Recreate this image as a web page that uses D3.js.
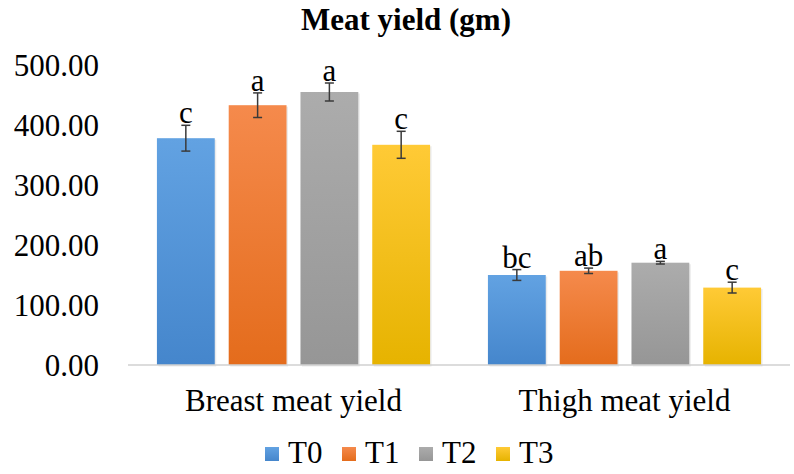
<!DOCTYPE html>
<html>
<head>
<meta charset="utf-8">
<script src="https://cdn.jsdelivr.net/npm/d3@7"></script>
<style>
  html, body { margin: 0; padding: 0; background: #fff; }
  svg { display: block; }
</style>
</head>
<body>
<svg id="chart" width="794" height="474"></svg>
<script>
const categories = ["Breast meat yield", "Thigh meat yield"];
const series = ["T0", "T1", "T2", "T3"];
const values = {
  T0: [378, 150],
  T1: [433, 157],
  T2: [455, 170.5],
  T3: [367, 129]
};
const errors = {
  T0: [21.5, 9],
  T1: [20.5, 4.5],
  T2: [15, 2.2],
  T3: [22.5, 9]
};
const letters = {
  T0: ["c", "bc"],
  T1: ["a", "ab"],
  T2: ["a", "a"],
  T3: ["c", "c"]
};
const yTicks = [0, 100, 200, 300, 400, 500];
const colorsTop = { T0: "#62a2e2", T1: "#f58a4c", T2: "#acacac", T3: "#ffca36" };
const colorsBot = { T0: "#4586cc", T1: "#e46c1c", T2: "#969696", T3: "#e6b300" };

const FONT = "'Liberation Serif'";
const svg = d3.select("#chart").attr("font-family", FONT);
const pLeft = 128, pRight = 790, pTop = 65, pBottom = 365;

const x0 = d3.scaleBand().domain(categories).range([pLeft, pRight]).paddingInner(0).paddingOuter(0);
const x1 = d3.scaleBand().domain(series).range([0, x0.bandwidth()]).paddingInner(14/72).paddingOuter(0.403);
const y = d3.scaleLinear().domain([0, 500]).range([pBottom, pTop]);

const defs = svg.append("defs");
series.forEach(s => {
  const g = defs.append("linearGradient").attr("id", "grad-" + s)
    .attr("x1", 0).attr("y1", 0).attr("x2", 0).attr("y2", 1);
  g.append("stop").attr("offset", "0%").attr("stop-color", colorsTop[s]);
  g.append("stop").attr("offset", "100%").attr("stop-color", colorsBot[s]);
});

// title
svg.append("text").attr("x", 406).attr("y", 30).attr("text-anchor", "middle")
  .attr("font-family", FONT).attr("font-size", 31).attr("font-weight", "bold").attr("fill", "#000")
  .text("Meat yield (gm)");

// y tick labels
const yAxis = d3.axisLeft(y).tickValues(yTicks).tickFormat(d3.format(".2f")).tickSize(0).tickPadding(0);
const ya = svg.append("g").attr("transform", `translate(99,0)`).call(yAxis)
  .attr("font-family", FONT).attr("font-size", 31);
ya.select(".domain").remove();
ya.selectAll("text").attr("fill", "#000").attr("dy", "0.34em");

// bars
const groups = svg.append("g").selectAll("g").data(categories).join("g")
  .attr("transform", d => `translate(${x0(d)},0)`);

groups.each(function(cat, ci) {
  const g = d3.select(this);
  series.forEach(s => {
    const v = values[s][ci], e = errors[s][ci];
    const bx = x1(s), bw = x1.bandwidth();
    g.append("rect").attr("x", bx + 1.5).attr("y", y(v) + 1.5).attr("width", bw).attr("height", pBottom - y(v))
      .attr("fill", "#000").attr("opacity", 0.08);
    g.append("rect").attr("x", bx).attr("y", y(v)).attr("width", bw).attr("height", pBottom - y(v))
      .attr("fill", `url(#grad-${s})`);
    const cx = bx + bw / 2;
    const col = "#3a3a3a";
    g.append("line").attr("x1", cx).attr("x2", cx).attr("y1", y(v + e)).attr("y2", y(v - e))
      .attr("stroke", col).attr("stroke-width", 1.5);
    [v + e, v - e].forEach(t => {
      g.append("line").attr("x1", cx - 4.5).attr("x2", cx + 4.5).attr("y1", y(t)).attr("y2", y(t))
        .attr("stroke", col).attr("stroke-width", 1.5);
    });
    g.append("text").attr("x", cx).attr("y", y(v + e) - 2).attr("text-anchor", "middle")
      .attr("font-family", FONT).attr("font-size", 31).attr("fill", "#000").text(letters[s][ci]);
  });
});

// x axis line
svg.append("line").attr("x1", pLeft).attr("x2", pRight).attr("y1", pBottom).attr("y2", pBottom)
  .attr("stroke", "#d0d0d0").attr("stroke-width", 1.3);

// x axis labels
const xAxis = d3.axisBottom(x0).tickSize(0).tickPadding(0);
const xa = svg.append("g").attr("transform", `translate(0,${pBottom})`).call(xAxis)
  .attr("font-family", FONT).attr("font-size", 31);
xa.select(".domain").remove();
xa.selectAll("text").attr("y", 46).attr("dy", 0).attr("fill", "#000");

// legend
const legendX = d3.scalePoint().domain(series).range([265, 265 + 77 * 3]);
const lg = svg.append("g").selectAll("g").data(series).join("g")
  .attr("transform", d => `translate(${legendX(d)},447)`);
lg.append("rect").attr("width", 14).attr("height", 14).attr("fill", d => `url(#grad-${d})`);
lg.append("text").attr("x", 23).attr("y", 15.5).attr("font-family", FONT).attr("font-size", 31)
  .attr("fill", "#000").text(d => d);
</script>
</body>
</html>
